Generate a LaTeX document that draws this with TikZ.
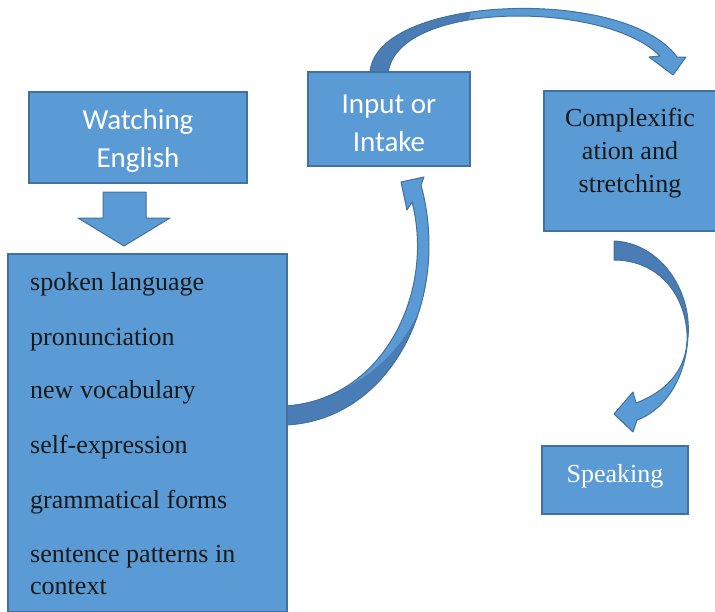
\documentclass[tikz,border=0pt]{standalone}
\usepackage{fontspec}
\setmainfont{Liberation Serif}
\newfontfamily\calib{Carlito}
\definecolor{boxfill}{HTML}{5B9BD5}
\definecolor{boxline}{HTML}{41719C}
\definecolor{arrdark}{HTML}{4A7DB5}
\begin{document}
\begin{tikzpicture}[x=1pt,y=-1pt,
  box/.style={draw=boxline, line width=1.3pt, fill=boxfill, rectangle, inner sep=0pt},
  shapeline/.style={draw=boxline, line width=1pt, line join=round},
  calibtext/.style={font=\calib\fontsize{29}{38}\selectfont, text=white, align=center, inner sep=0pt},
  timestext/.style={font=\fontsize{26}{33}\selectfont, inner sep=0pt, text=black!90},
]
\useasboundingbox (0,0) rectangle (715,611);
\clip (0,0) rectangle (715,611);

\def\arrowA{(370,74) .. controls (372,-5) and (625,-15) .. (677,57)
  -- (686,57) -- (673,75) -- (649,57) -- (660,56)
  .. controls (605,0) and (395,0) .. (388,74) -- cycle}
\def\arrowB{(285,425) .. controls (390,421) and (452,300) .. (421,185)
  -- (424,177) -- (401,182) -- (407,210) -- (412,202)
  .. controls (435,290) and (385,400) .. (285,406) -- cycle}
\def\arrowC{(614,241) .. controls (660,243) and (692,290) .. (688,337)
  .. controls (685,385) and (660,412) .. (637,420)
  -- (633,432) -- (614,414) -- (633,392) -- (636,403)
  .. controls (665,392) and (689,370) .. (687,333)
  .. controls (684,290) and (655,260) .. (614,260) -- cycle}

% curved arrow: Input -> Complexification
\fill[boxfill] \arrowA;
\begin{scope}
  \clip \arrowA;
  \fill[arrdark] (300,-10) -- (478,-10) -- (440,110) -- (300,110) -- cycle;
\end{scope}
\draw[shapeline] \arrowA;

% curved arrow: list -> Input
\fill[boxfill] \arrowB;
\begin{scope}
  \clip \arrowB;
  \fill[arrdark] (280,440) -- (470,440) -- (470,250) -- (434,250)
    .. controls (428,340) and (360,402) .. (280,404) -- cycle;
\end{scope}
\draw[shapeline] \arrowB;

% curved arrow: Complexification -> Speaking
\fill[boxfill] \arrowC;
\begin{scope}
  \clip \arrowC;
  \fill[arrdark] (600,230) -- (720,230) -- (720,337) -- (600,337) -- cycle;
\end{scope}
\draw[shapeline] \arrowC;

% boxes
\node[box, minimum width=218pt, minimum height=91pt] (watch) at (138,137.5) {};
\node[calibtext] (watchtxt) at (138,141) {Watching\\English};

\draw[shapeline, fill=boxfill] (103,192) -- (146,192) -- (146,218) -- (170,218) -- (124,246) -- (78,218) -- (103,218) -- cycle;

\node[box, minimum width=279pt, minimum height=358pt] (list) at (147.5,433) {};
\node[timestext, anchor=base west] (l1) at (30,290) {spoken language};
\node[timestext, anchor=base west] (l2) at (30,345) {pronunciation};
\node[timestext, anchor=base west] (l3) at (30,398) {new vocabulary};
\node[timestext, anchor=base west] (l4) at (30,453) {self-expression};
\node[timestext, anchor=base west] (l5) at (30,508) {grammatical forms};
\node[timestext, anchor=base west] (l6) at (30,562) {sentence patterns in};
\node[timestext, anchor=base west] (l7) at (30,594) {context};

\node[box, minimum width=162pt, minimum height=94pt] (input) at (389,119) {};
\node[calibtext] (inputtxt) at (389,123) {Input or\\Intake};

\node[box, minimum width=173pt, minimum height=140pt] (complex) at (630.5,161) {};
\node[timestext, align=center] (complextxt) at (630,153) {Complexific\\ation and\\stretching};

\node[box, minimum width=146pt, minimum height=68pt] (speak) at (615,480) {};
\node[timestext, text=white, anchor=base] (speaktxt) at (615,482) {Speaking};
\end{tikzpicture}
\end{document}
